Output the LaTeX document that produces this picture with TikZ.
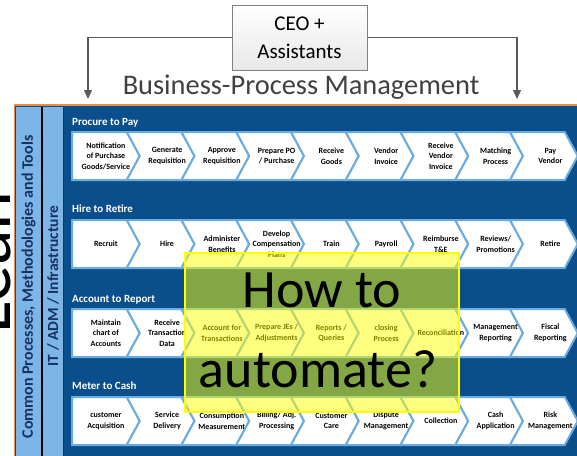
\documentclass[tikz,border=0pt]{standalone}
\usepackage{fontspec}
\setmainfont{Carlito}
\usetikzlibrary{arrows.meta,positioning}

\definecolor{bpmblue}{RGB}{10,79,139}
\definecolor{colblue}{RGB}{125,182,230}
\definecolor{chevline}{RGB}{105,172,226}
\definecolor{colnavy}{RGB}{22,50,98}
\definecolor{edgeorange}{RGB}{232,140,72}
\definecolor{flowgray}{RGB}{90,90,90}
\definecolor{hlyellow}{RGB}{255,255,0}

% one row of process chevrons: #1 = top, #2 = node prefix, #3 = labels
\newcommand{\procrow}[3]{%
  \foreach \lbl [count=\i from 0] in {#3} {
    \pgfmathsetmacro{\xa}{72+54.75*\i}
    \pgfmathsetmacro{\xb}{\xa+54.75}
    \pgfmathsetmacro{\nt}{\i==0 ? 0 : 13}
    \draw[chevshape] (\xa,#1) -- (\xb,#1) -- (\xb+13,#1+24) -- (\xb,#1+48)
      -- (\xa,#1+48) -- (\xa+\nt,#1+24) -- cycle;
    \node[chevtext] (#2\i) at ({(\xa+\nt+\xb+13)/2},#1+24) {\lbl};
  }}

\begin{document}
\begin{tikzpicture}[x=1pt,y=-1pt,
  chevshape/.style={fill=white,draw=chevline,line width=2pt,line join=miter},
  chevtext/.style={align=center,inner sep=0pt,
    font=\fontsize{8}{10.5}\selectfont\bfseries},
  rowtitle/.style={anchor=base west,inner sep=0pt,text=white,
    font=\fontsize{11}{13}\selectfont\bfseries},
  coltext/.style={rotate=90,inner sep=0pt,text=colnavy,
    font=\fontsize{16}{18}\selectfont\bfseries},
  flow/.style={draw=flowgray,line width=1.2pt,-{Triangle[length=9pt,width=8pt]}}]

\useasboundingbox (0,0) rectangle (577,455);
\clip (0,0) rectangle (577,455);

% header
\node[draw=gray,line width=1pt,top color=white,bottom color=gray!18,
  minimum width=135pt,minimum height=65pt,align=center,
  font=\fontsize{21}{28}\selectfont] (ceo) at (299.5,37.5) {CEO +\\Assistants};
\coordinate (bpmL) at (88,99);
\coordinate (bpmR) at (517,99);
\draw[flow] (ceo.west) -| (bpmL);
\draw[flow] (ceo.east) -| (bpmR);
\node[anchor=base,inner sep=0pt,text={rgb,255:red,64;green,64;blue,64},
  font=\fontsize{28.4}{30}\selectfont] (bpm) at (301,94) {Business-Process Management};

% panel and side columns
\filldraw[fill=bpmblue,draw=edgeorange,line width=1.5pt] (14.5,105) rectangle (620,490);
\fill[colblue] (16,107) rectangle (40.5,480);
\fill[colblue] (42.5,107) rectangle (63,480);
\draw[black,line width=2pt] (41.5,107) -- (41.5,480);
\draw[colnavy,line width=1pt] (63.5,107) -- (63.5,480);
\node[coltext] (cpm) at (28.5,287) {Common Processes, Methodologies and Tools};
\node[coltext,font=\fontsize{15.5}{18}\selectfont\bfseries] (itadm) at (53,286) {IT / ADM / Infrastructure};

\node[rotate=90,anchor=base west,inner sep=0pt,
  font=\fontsize{74}{80}\selectfont] (lean) at (10.5,334) {Lean};

% process rows
\node[rowtitle] (p2p) at (72,125) {Procure to Pay};
\procrow{132}{p}{{Notification\\of Purchase\\Goods/Service},{Generate\\Requisition},
  {Approve\\Requisition},{Prepare PO\\/ Purchase},{Receive\\Goods},{Vendor\\Invoice},
  {Receive\\Vendor\\Invoice},{Matching\\Process},{Pay\\Vendor}}

\node[rowtitle] (h2r) at (72,212) {Hire to Retire};
\procrow{220}{h}{{Recruit},{Hire},{Administer\\Benefits},{Develop\\Compensation\\Plans},
  {Train},{Payroll},{Reimburse\\T\&E},{Reviews/\\Promotions},{Retire}}

\node[rowtitle] (a2r) at (72,302) {Account to Report};
\procrow{309}{a}{{Maintain\\chart of\\Accounts},{Receive\\Transaction\\Data},
  {Account for\\Transactions},{Prepare JEs /\\Adjustments},{Reports /\\Queries},
  {closing\\Process},{Reconciliation},{Management\\Reporting},{Fiscal\\Reporting}}

\node[rowtitle] (m2c) at (72,389) {Meter to Cash};
\procrow{397}{m}{{customer\\Acquisition},{Service\\Delivery},{Consumption\\Measurement},
  {Billing/ Adj.\\Processing},{Customer\\Care},{Dispute\\Management},{Collection},
  {Cash\\Application},{Risk\\Management}}

% highlight
\node[draw=hlyellow,line width=1.2pt,fill=hlyellow,fill opacity=0.5,
  minimum width=274pt,minimum height=159pt] (hl) at (322,332.5) {};
\node[anchor=base,inner sep=0pt,font=\fontsize{54}{60}\selectfont] (how) at (322,307) {How to};
\node[anchor=base,inner sep=0pt,font=\fontsize{54}{60}\selectfont] (auto) at (318,387) {automate?};
\end{tikzpicture}
\end{document}
